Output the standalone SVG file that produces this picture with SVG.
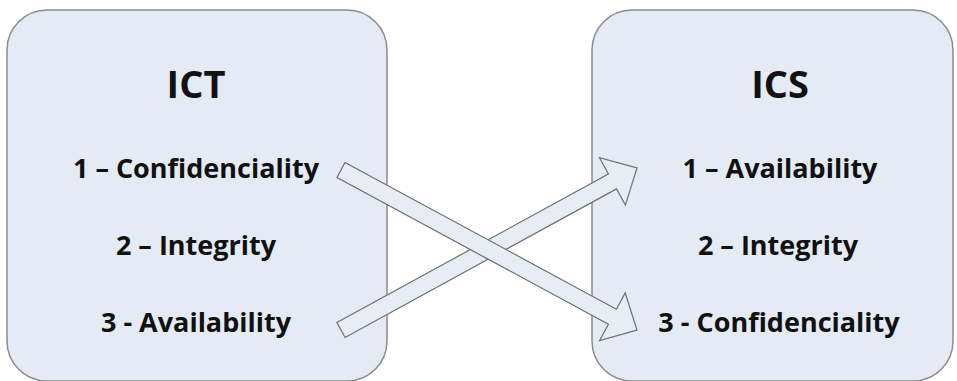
<svg xmlns="http://www.w3.org/2000/svg" width="957" height="381" viewBox="0 0 957 381">
<style>
.box{fill:#e4ebf4;stroke:#8c8c8c;stroke-width:1.5}
.arrow{fill:#e6edf5;stroke:#6f6f6f;stroke-width:1.2;stroke-linejoin:miter}
.title{font-family:"Open Sans","Liberation Sans",sans-serif;font-weight:bold;font-size:38px;fill:#111;text-anchor:middle}
.item{font-family:"Open Sans","Liberation Sans",sans-serif;font-weight:bold;font-size:27px;fill:#111;text-anchor:middle}
</style>
<rect width="957" height="381" fill="#ffffff"/>
<g id="ict">
<rect class="box" x="7" y="10" width="380" height="371" rx="40" ry="40"/>
<text class="title" x="196" y="98">ICT</text>
<text class="item" x="196" y="178">1 – Confidenciality</text>
<text class="item" x="196" y="255">2 – Integrity</text>
<text class="item" x="196" y="332">3 - Availability</text>
</g>
<g id="ics">
<rect class="box" x="592" y="10" width="361" height="371" rx="40" ry="40"/>
<text class="title" x="780" y="98">ICS</text>
<text class="item" x="780" y="178">1 – Availability</text>
<text class="item" x="778" y="255">2 – Integrity</text>
<text class="item" x="779" y="332">3 - Confidenciality</text>
</g>
<g id="connectors">
<polygon class="arrow" points="336.9,322.5 608.4,174.0 599.5,157.7 637,168 625.4,205.1 616.5,188.9 345.1,337.5"/>
<polygon class="arrow" points="345.0,162.5 616.4,309.2 625.2,292.9 637,330 599.6,340.5 608.4,324.2 337.0,177.5"/>
</g>
</svg>
